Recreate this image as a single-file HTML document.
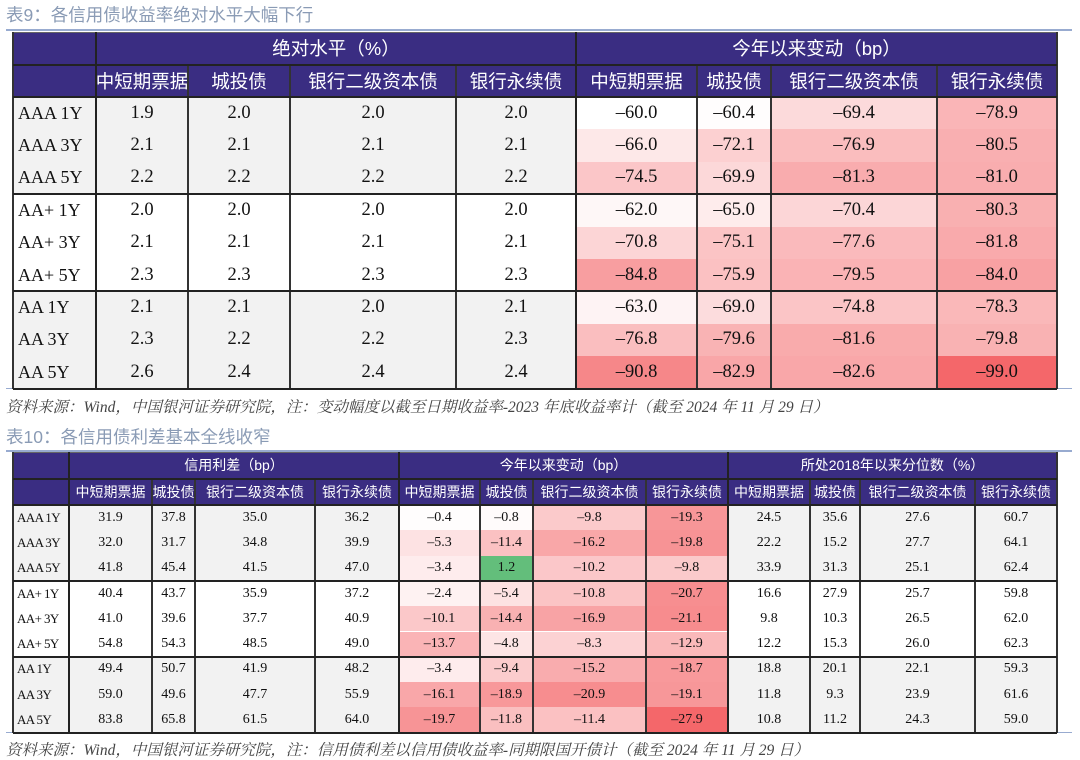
<!DOCTYPE html>
<html><head><meta charset="utf-8">
<style>
body{margin:0;width:1080px;height:760px;background:#fff;position:relative;overflow:hidden;font-family:"Liberation Serif","Noto Serif CJK SC",serif;}
.c{position:absolute;box-sizing:border-box;display:flex;align-items:center;justify-content:center;white-space:nowrap;color:#111;}
.h{background:#3a2d82;color:#fff;font-family:"Liberation Sans","Noto Sans CJK SC",sans-serif;}
.t{position:absolute;left:6px;font-family:"Liberation Sans","Noto Sans CJK SC",sans-serif;color:#8a9bb5;}
.ln{position:absolute;background:#222;}
.note{position:absolute;left:6px;font-family:"Liberation Serif","Noto Serif CJK SC",serif;font-style:italic;color:#444;font-size:15.5px;}
.bl{position:absolute;left:6px;right:8px;height:2px;background:#98abd0;}
</style></head><body>
<div class="t" style="top:2px;font-size:17.5px">表9：各信用债收益率绝对水平大幅下行</div>
<div class="bl" style="top:29px"></div>
<div class="note" style="top:395px">资料来源：Wind，中国银河证券研究院，注：变动幅度以截至日期收益率-2023 年底收益率计（截至 2024 年 11 月 29 日）</div>
<div class="bl" style="top:388px;height:1px"></div>
<div class="t" style="top:424px;font-size:17.5px">表10：各信用债利差基本全线收窄</div>
<div class="bl" style="top:450px"></div>
<div class="note" style="top:738px">资料来源：Wind，中国银河证券研究院，注：信用债利差以信用债收益率-同期限国开债计（截至 2024 年 11 月 29 日）</div>
<div class="bl" style="top:732px;height:1px"></div>
<script>
function col(v,lo,hi){
 if(v>0) return 'rgb(99,190,123)';
 var t=(lo-v)/(lo-hi); if(t<0)t=0; if(t>1)t=1;
 return 'rgb('+Math.round(255-t*11)+','+Math.round(255-t*152)+','+Math.round(255-t*149)+')';
}
function add(x,y,w,h,txt,cls,bg,fs){
 var d=document.createElement('div');d.className='c '+(cls||'');
 d.style.cssText+='left:'+x+'px;top:'+y+'px;width:'+w+'px;height:'+h+'px;font-size:'+fs+'px;'+(bg?'background:'+bg+';':'');
 d.textContent=txt;document.body.appendChild(d);
}
function line(x,y,w,h,c){var d=document.createElement('div');d.className='ln';d.style.cssText='left:'+x+'px;top:'+y+'px;width:'+w+'px;height:'+h+'px;'+(c?'background:'+c:'');document.body.appendChild(d);}
var labels=['AAA 1Y','AAA 3Y','AAA 5Y','AA+ 1Y','AA+ 3Y','AA+ 5Y','AA 1Y','AA 3Y','AA 5Y'];
var sub=['中短期票据','城投债','银行二级资本债','银行永续债'];
function table(X,top,h1,h2,rh,groups,data,heat,lo,hi,fsH,fsD,fsL){
 var n=X.length-1;
 add(X[0],top,X[1]-X[0],h1,'','h',null,fsH);
 add(X[0],top+h1,X[1]-X[0],h2,'','h',null,fsH);
 for(var g=0;g<groups.length;g++){add(X[1+4*g],top,X[5+4*g]-X[1+4*g],h1,groups[g],'h',null,fsH);
  for(var k=0;k<4;k++)add(X[1+4*g+k],top+h1,X[2+4*g+k]-X[1+4*g+k],h2,sub[k],'h',null,fsH);}
 var y0=top+h1+h2;
 for(var r=0;r<9;r++){
  var y=y0+r*rh; var grp=Math.floor(r/3); var bg=grp==1?'#fff':'#f2f2f2';
  add(X[0],y,X[1]-X[0],rh,labels[r],'',bg,fsL);
  var L=document.body.lastChild;L.style.justifyContent='flex-start';L.style.paddingLeft='5px';
  if(fsL<16){L.style.letterSpacing='-0.6px';L.style.paddingLeft='4px';}
  for(var c=0;c<n-1;c++){
   var v=data[r][c]; var b=heat[Math.floor(c/4)]?col(v,lo,hi):bg;
   add(X[c+1],y,X[c+2]-X[c+1],rh,v.toFixed(1).replace('-','–'),'',b,fsD);
  }
 }
 var bot=y0+9*rh;
 line(X[0],top,X[n]-X[0],1,'#666');
 for(var i=0;i<=n;i++){ if(i==0||i==n) {line(X[i]-1,top,2,bot-top,'#333');continue;}
  var isG=(i-1)%4==0; line(X[i]-1,isG?top:top+h1,isG?2:1.5,isG?bot-top:bot-top-h1,isG?'#222':'#333');}
 line(X[0],top+h1,X[n]-X[0],1.5,'#222');line(X[0],y0-1,X[n]-X[0],2,'#222');
 line(X[0],y0+3*rh-1,X[n]-X[0],2,'#222');line(X[0],y0+6*rh-1,X[n]-X[0],2,'#222');
 line(X[0],bot-1,X[n]-X[0],2,'#222');
}
var d1=[[1.9,2.0,2.0,2.0,-60.0,-60.4,-69.4,-78.9],[2.1,2.1,2.1,2.1,-66.0,-72.1,-76.9,-80.5],[2.2,2.2,2.2,2.2,-74.5,-69.9,-81.3,-81.0],
[2.0,2.0,2.0,2.0,-62.0,-65.0,-70.4,-80.3],[2.1,2.1,2.1,2.1,-70.8,-75.1,-77.6,-81.8],[2.3,2.3,2.3,2.3,-84.8,-75.9,-79.5,-84.0],
[2.1,2.1,2.0,2.1,-63.0,-69.0,-74.8,-78.3],[2.3,2.2,2.2,2.3,-76.8,-79.6,-81.6,-79.8],[2.6,2.4,2.4,2.4,-90.8,-82.9,-82.6,-99.0]];
table([13,96,188,290,456,576,697,771,937,1057],32,32,33,32.4,['绝对水平（%）','今年以来变动（bp）'],d1,[0,1],-60,-99,18.5,18.5,18);
var d2=[[31.9,37.8,35.0,36.2,-0.4,-0.8,-9.8,-19.3,24.5,35.6,27.6,60.7],[32.0,31.7,34.8,39.9,-5.3,-11.4,-16.2,-19.8,22.2,15.2,27.7,64.1],[41.8,45.4,41.5,47.0,-3.4,1.2,-10.2,-9.8,33.9,31.3,25.1,62.4],
[40.4,43.7,35.9,37.2,-2.4,-5.4,-10.8,-20.7,16.6,27.9,25.7,59.8],[41.0,39.6,37.7,40.9,-10.1,-14.4,-16.9,-21.1,9.8,10.3,26.5,62.0],[54.8,54.3,48.5,49.0,-13.7,-4.8,-8.3,-12.9,12.2,15.3,26.0,62.3],
[49.4,50.7,41.9,48.2,-3.4,-9.4,-15.2,-18.7,18.8,20.1,22.1,59.3],[59.0,49.6,47.7,55.9,-16.1,-18.9,-20.9,-19.1,11.8,9.3,23.9,61.6],[83.8,65.8,61.5,64.0,-19.7,-11.8,-11.4,-27.9,10.8,11.2,24.3,59.0]];
table([13,69,152,195,315,399,480,533,646,728,810,860,975,1057],452,26,27,25.3,['信用利差（bp）','今年以来变动（bp）','所处2018年以来分位数（%）'],d2,[0,1,0],0,-27.9,14,14,13);
</script>
</body></html>
